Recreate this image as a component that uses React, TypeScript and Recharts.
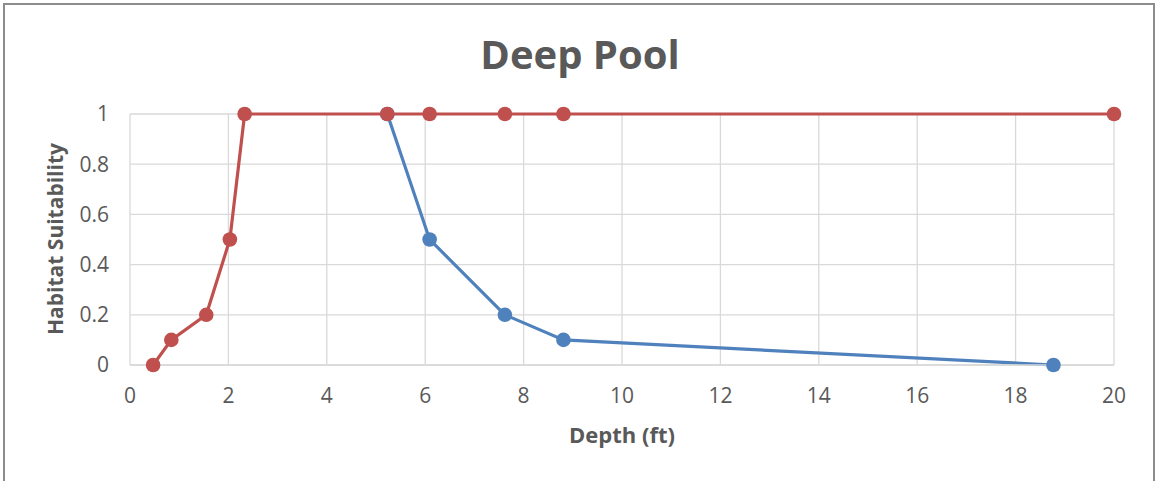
import React from 'react';
import { LineChart, Line, XAxis, YAxis, CartesianGrid } from 'recharts';

const redDepth = [0.47, 0.84, 1.55, 2.03, 2.33, 5.23, 6.09, 7.62, 8.81, 20];
const redSuitability = [0, 0.1, 0.2, 0.5, 1, 1, 1, 1, 1, 1];
const blueDepth = [5.23, 6.09, 7.62, 8.81, 18.77];
const blueSuitability = [1, 0.5, 0.2, 0.1, 0];
const xTicks = [0, 2, 4, 6, 8, 10, 12, 14, 16, 18, 20];
const yTicks = [0, 0.2, 0.4, 0.6, 0.8, 1];
const title = 'Deep Pool';
const xTitle = 'Depth (ft)';
const yTitle = 'Habitat Suitability';

const redData = redDepth.map((x, i) => ({ x, y: redSuitability[i] }));
const blueData = blueDepth.map((x, i) => ({ x, y: blueSuitability[i] }));

const FONT = '"Open Sans", sans-serif';
const TEXT = '#595959';
const GRID = '#d9d9d9';
const RED = '#c0504d';
const BLUE = '#4f81bd';

export default function App() {
  return (
    <div style={{ position: 'absolute', left: 0, top: 0, width: 1156, height: 481, overflow: 'hidden', background: '#fff' }}>
      <div style={{ position: 'absolute', left: 3, top: 3, width: 1152, height: 520, border: '2px solid #8c8c8c', boxSizing: 'border-box' }} />
      <LineChart width={1156} height={481} margin={{ top: 114, right: 42, bottom: 0, left: 0 }} style={{ position: 'absolute', left: 0, top: 0 }}>
        <CartesianGrid stroke={GRID} strokeWidth={1.3} />
        <XAxis
          type="number"
          dataKey="x"
          domain={[0, 20]}
          ticks={xTicks}
          height={116}
          tickLine={false}
          tickSize={0}
          tickMargin={23}
          axisLine={{ stroke: GRID, strokeWidth: 1.5 }}
          tick={{ fill: TEXT, fontSize: 21, fontFamily: FONT }}
        />
        <YAxis
          type="number"
          dataKey="y"
          domain={[0, 1]}
          ticks={yTicks}
          width={130}
          tickLine={false}
          tickSize={0}
          tickMargin={21}
          axisLine={false}
          tick={{ fill: TEXT, fontSize: 21, fontFamily: FONT }}
        />
        <Line
          data={blueData}
          dataKey="y"
          stroke={BLUE}
          strokeWidth={3.2}
          dot={{ r: 7.3, fill: BLUE, stroke: 'none', clipDot: false }}
          activeDot={false}
          isAnimationActive={false}
        />
        <Line
          data={redData}
          dataKey="y"
          stroke={RED}
          strokeWidth={3.2}
          dot={{ r: 7.3, fill: RED, stroke: 'none', clipDot: false }}
          activeDot={false}
          isAnimationActive={false}
        />
        <text x={580} y={69} textAnchor="middle" fill={TEXT} fontSize={40} fontWeight="bold" fontFamily={FONT}>{title}</text>
        <text x={622} y={443} textAnchor="middle" fill={TEXT} fontSize={22} fontWeight="bold" fontFamily={FONT}>{xTitle}</text>
        <text x={63} y={239} transform="rotate(-90 63 239)" textAnchor="middle" fill={TEXT} fontSize={21} fontWeight="bold" fontFamily={FONT}>{yTitle}</text>
      </LineChart>
    </div>
  );
}
